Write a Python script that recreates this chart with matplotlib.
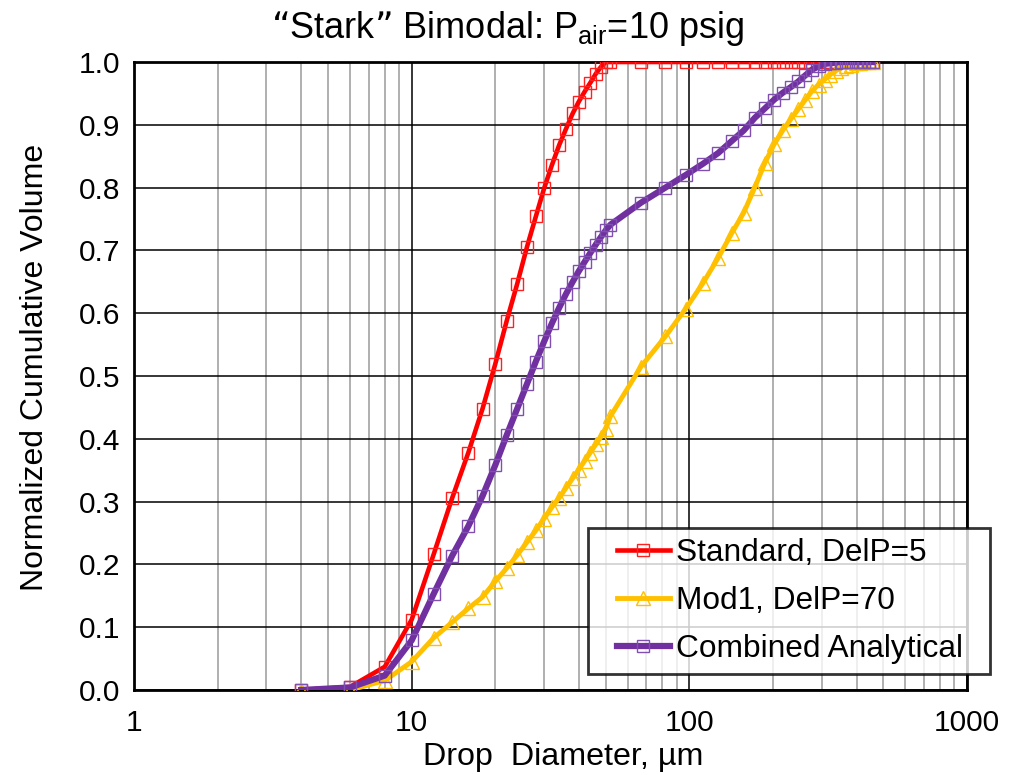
import matplotlib
matplotlib.use("Agg")
import matplotlib.pyplot as plt
from matplotlib.ticker import LogLocator, FixedLocator, NullFormatter
from matplotlib.legend_handler import HandlerLine2D

plt.rcParams['font.family'] = ['Liberation Sans', 'DejaVu Sans']

# Drop diameters (µm)
diam = [4, 6, 8, 10, 12, 14, 16, 18, 20, 22, 24, 26, 28, 30, 32, 34, 36, 38, 40,
        42, 44, 46, 48, 50, 52, 67, 82, 97, 112, 127, 142, 157, 172, 187, 202,
        217, 232, 247, 262, 277, 292, 307, 322, 337, 352, 367, 382, 397, 412,
        427, 442, 457]

standard = [0.0, 0.005, 0.037, 0.112, 0.216, 0.306, 0.378, 0.448, 0.519, 0.588,
            0.647, 0.705, 0.754, 0.799, 0.836, 0.868, 0.894, 0.918, 0.937, 0.953,
            0.967, 0.981, 0.992, 1.0, 1.0, 1.0, 1.0, 1.0, 1.0, 1.0, 1.0, 1.0, 1.0,
            1.0, 1.0, 1.0, 1.0, 1.0, 1.0, 1.0, 1.0, 1.0, 1.0, 1.0, 1.0, 1.0, 1.0,
            1.0, 1.0, 1.0, 1.0, 1.0]

mod1 = [0.0, 0.0, 0.015, 0.045, 0.083, 0.108, 0.130, 0.148, 0.173, 0.194,
        0.215, 0.235, 0.254, 0.273, 0.291, 0.306, 0.322, 0.337, 0.351, 0.365,
        0.378, 0.391, 0.403, 0.416, 0.436, 0.515, 0.563, 0.607, 0.648, 0.688,
        0.727, 0.760, 0.800, 0.839, 0.869, 0.891, 0.909, 0.925, 0.940, 0.954,
        0.964, 0.972, 0.980, 0.986, 0.991, 0.994, 0.996, 0.998, 0.999, 1.0,
        1.0, 1.0]

combined = [0.0, 0.004, 0.023, 0.079, 0.153, 0.214, 0.261, 0.309, 0.358, 0.406,
            0.448, 0.487, 0.523, 0.555, 0.584, 0.609, 0.631, 0.650, 0.667, 0.682,
            0.696, 0.709, 0.721, 0.732, 0.741, 0.776, 0.800, 0.820, 0.838, 0.855,
            0.874, 0.891, 0.911, 0.926, 0.940, 0.951, 0.960, 0.969, 0.979, 0.988,
            0.993, 0.997, 0.998, 0.999, 1.0, 1.0, 1.0, 1.0, 1.0, 1.0, 1.0, 1.0]

labels = ["Standard, DelP=5", "Mod1, DelP=70", "Combined Analytical"]
yticks = [0.0, 0.1, 0.2, 0.3, 0.4, 0.5, 0.6, 0.7, 0.8, 0.9, 1.0]
xticks = [1, 10, 100, 1000]

fig = plt.figure(figsize=(10.11, 7.75), dpi=100)
W, H = 1011, 775
ax = fig.add_axes([134 / W, 1 - 690 / H, (967 - 134) / W, (690 - 62) / H])

ax.set_xscale('log')
ax.set_xlim(1, 1000)
ax.set_ylim(0, 1.0)

ax.xaxis.set_major_locator(FixedLocator(xticks))
ax.xaxis.set_minor_locator(LogLocator(base=10, subs=range(2, 10)))
ax.xaxis.set_minor_formatter(NullFormatter())
ax.set_xticks(xticks)
ax.set_xticklabels([str(t) for t in xticks])
ax.set_yticks(yticks)
ax.set_yticklabels([f"{t:.1f}" for t in yticks])
ax.grid(True, which='major', color='black', linewidth=1.1, zorder=0)
ax.grid(True, which='minor', axis='x', color='#9a9a9a', linewidth=1.1, zorder=0)
ax.set_axisbelow(True)
ax.tick_params(which='both', length=0, labelsize=21.5)
ax.tick_params(axis='y', pad=10)
ax.tick_params(axis='x', pad=14)

for s in ax.spines.values():
    s.set_linewidth(2)
    s.set_color('black')

ax.plot(diam, standard, color='#FF0000', lw=3.3, marker='s', ms=8,
        mfc='none', mec='#FF2020', mew=1.0, label=labels[0], zorder=3)
ax.plot(diam, mod1, color='#FFC000', lw=3.5, marker='^', ms=9.5,
        mfc='none', mec='#FFC000', mew=1.0, label=labels[1], zorder=3)
ax.plot(diam, combined, color='#7030A0', lw=4.5, marker='s', ms=8,
        mfc='none', mec='#8050B0', mew=1.0, label=labels[2], zorder=4)

fig.text(508 / W, 1 - 29 / H,
         "\u201cStark\u201d Bimodal: P$_{\\mathregular{air}}$=10 psig",
         fontsize=26, ha='center', va='center')
fig.text(563 / W, 1 - 757 / H, "Drop  Diameter, \u00b5m",
         fontsize=23.2, ha='center', va='center')
fig.text(35 / W, 1 - 367 / H, "Normalized Cumulative Volume",
         fontsize=23, ha='center', va='center', rotation=90)

leg = fig.legend(loc='upper left',
                 bbox_to_anchor=(588 / W, 1 - 671 / H, (990 - 588) / W, (671 - 528) / H),
                 mode='expand', fontsize=22.8, frameon=True, fancybox=False,
                 handlelength=2.25, borderpad=0.33, labelspacing=0.56,
                 handletextpad=0.2, borderaxespad=0,
                 handler_map={l: HandlerLine2D(xpad=0.58) for l in ax.get_lines()})
leg.get_frame().set_edgecolor('black')
leg.get_frame().set_linewidth(2)

fig.savefig('out.png', dpi=100)
